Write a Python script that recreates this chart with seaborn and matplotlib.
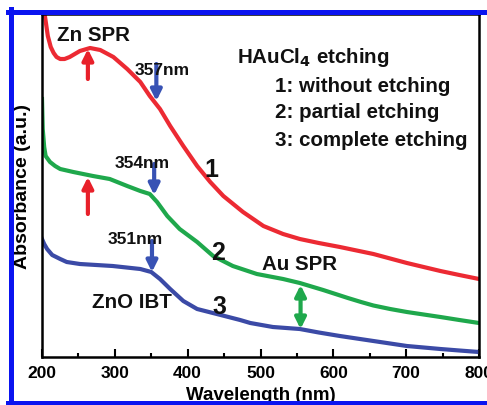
import numpy as np
import pandas as pd
import matplotlib
matplotlib.use("Agg")
import matplotlib.pyplot as plt
from matplotlib.lines import Line2D
import seaborn as sns

# spectra (absorbance in arbitrary units)
wl_1 = [200, 201, 204, 208, 212, 216, 220, 225, 231, 238, 252, 266, 280, 298, 317, 335, 348, 362,
        376, 394, 413, 431, 449, 476, 504, 531, 554, 580, 609, 632, 655, 678, 701, 724, 747, 773, 800]
abs_1 = [3.55, 3.48, 3.41, 3.21, 3.10, 3.04, 3.00, 2.98, 2.98, 3.00, 3.06, 3.09, 3.07, 3.00, 2.88,
         2.75, 2.61, 2.48, 2.31, 2.11, 1.91, 1.75, 1.61, 1.45, 1.31, 1.23, 1.18, 1.14, 1.10, 1.065,
         1.03, 0.985, 0.94, 0.90, 0.86, 0.82, 0.78]

wl_2 = [200, 201, 203, 205, 211, 218, 225, 243, 270, 293, 317, 335, 348, 358, 372, 389, 413, 435,
        462, 495, 531, 554, 570, 586, 603, 620, 638, 655, 678, 701, 724, 747, 773, 800]
abs_2 = [2.58, 2.28, 2.10, 2.01, 1.95, 1.91, 1.88, 1.85, 1.81, 1.78, 1.71, 1.66, 1.63, 1.55, 1.41,
         1.28, 1.15, 1.01, 0.91, 0.83, 0.78, 0.74, 0.705, 0.67, 0.63, 0.59, 0.55, 0.515, 0.48, 0.45,
         0.425, 0.40, 0.37, 0.34]

wl_3 = [200, 203, 207, 214, 225, 234, 252, 297, 335, 350, 362, 376, 394, 413, 440, 472, 486, 517,
        554, 580, 609, 632, 655, 678, 701, 724, 747, 773, 800]
abs_3 = [1.18, 1.13, 1.08, 1.02, 0.98, 0.95, 0.93, 0.91, 0.88, 0.85, 0.78, 0.68, 0.56, 0.48, 0.43,
         0.37, 0.34, 0.30, 0.28, 0.245, 0.21, 0.185, 0.16, 0.135, 0.11, 0.095, 0.08, 0.065, 0.05]

samples = ["1", "2", "3"]
colors = ["#ec2a33", "#1fa84c", "#3b4aa6"]

df = pd.concat([
    pd.DataFrame({"wl": wl_1, "A": abs_1, "s": "1"}),
    pd.DataFrame({"wl": wl_2, "A": abs_2, "s": "2"}),
    pd.DataFrame({"wl": wl_3, "A": abs_3, "s": "3"}),
])

plt.rcParams['font.family'] = ['Liberation Sans', 'DejaVu Sans']
plt.rcParams['font.weight'] = 'bold'

fig = plt.figure(figsize=(4.87, 4.06), dpi=100)
ax = fig.add_axes([42/487, 48/406, 437/487, 343/406])

sns.lineplot(data=df, x="wl", y="A", hue="s", palette=dict(zip(samples, colors)),
             linewidth=3, legend=False, ax=ax, solid_joinstyle='round')

ax.set_xlim(200, 800)
ax.set_ylim(0, 3.43)
ax.set_xticks([200, 300, 400, 500, 600, 700, 800])
ax.set_xticks([250, 350, 450, 550, 650, 750], minor=True)
ax.set_yticks([])
ax.tick_params(axis='x', direction='in', length=6, width=1.5, labelsize=12.5, pad=6)
ax.tick_params(axis='x', which='minor', direction='in', length=3, width=1.5)
for sp in ax.spines.values():
    sp.set_linewidth(1.8)
ax.set_xlabel("Wavelength (nm)", fontsize=13.5, fontweight='bold', labelpad=4)
ax.set_ylabel("Absorbance (a.u.)", fontsize=14, fontweight='bold')
ax.yaxis.set_label_coords(-0.026, 0.5)

# arrows (tail -> tip)
red_arr = "#e8202a"
blue_arr = "#3852b4"
green_arr = "#1fa84c"
arrows = [
    ((263, 2.78), (263, 3.08), red_arr, '-|>'),
    ((263, 1.43), (263, 1.80), red_arr, '-|>'),
    ((357, 2.93), (357, 2.56), blue_arr, '-|>'),
    ((354, 1.93), (354, 1.62), blue_arr, '-|>'),
    ((351, 1.16), (351, 0.85), blue_arr, '-|>'),
]
for tail, tip, c, st in arrows:
    ax.annotate("", xy=tip, xytext=tail,
                arrowprops=dict(arrowstyle=st, color=c, lw=3, mutation_scale=16, shrinkA=0, shrinkB=0))
ax.annotate("", xy=(555, 0.28), xytext=(555, 0.72),
            arrowprops=dict(arrowstyle='<|-|>', color=green_arr, lw=3, mutation_scale=16,
                            shrinkA=0, shrinkB=0))

kw = dict(fontweight='bold', color='#111111')
big = 14.8
ax.text(220, 3.23, "Zn SPR", fontsize=big, va='center', **kw)
ax.text(327, 2.88, "357nm", fontsize=12.5, va='center', **kw)
ax.text(300, 1.95, "354nm", fontsize=12.5, va='center', **kw)
ax.text(290, 1.18, "351nm", fontsize=12.5, va='center', **kw)
ax.text(268, 0.55, "ZnO IBT", fontsize=big, va='center', **kw)
ax.text(502, 0.93, "Au SPR", fontsize=big, va='center', **kw)
ax.text(432, 1.88, "1", fontsize=18, ha='center', va='center', **kw)
ax.text(442, 1.05, "2", fontsize=18, ha='center', va='center', **kw)
ax.text(443, 0.51, "3", fontsize=18, ha='center', va='center', **kw)
ax.text(468, 3.01, r"HAuCl$_\mathbf{4}$ etching", fontsize=big, va='center', **kw)
ax.text(520, 2.71, "1: without etching", fontsize=big, va='center', **kw)
ax.text(520, 2.45, "2: partial etching", fontsize=big, va='center', **kw)
ax.text(520, 2.18, "3: complete etching", fontsize=big, va='center', **kw)

# blue frame around the figure (cropped on the right)
fb = "#0a14f0"
fig.add_artist(Line2D([8/487, 1.0], [1 - 12.5/406, 1 - 12.5/406], color=fb, lw=3.6, transform=fig.transFigure))
fig.add_artist(Line2D([10.5/487, 10.5/487], [0, 1 - 10/406], color=fb, lw=3.6, transform=fig.transFigure))
fig.add_artist(Line2D([8/487, 1.0], [2.5/406, 2.5/406], color=fb, lw=3.6, transform=fig.transFigure))

fig.savefig("out.png", dpi=100)
